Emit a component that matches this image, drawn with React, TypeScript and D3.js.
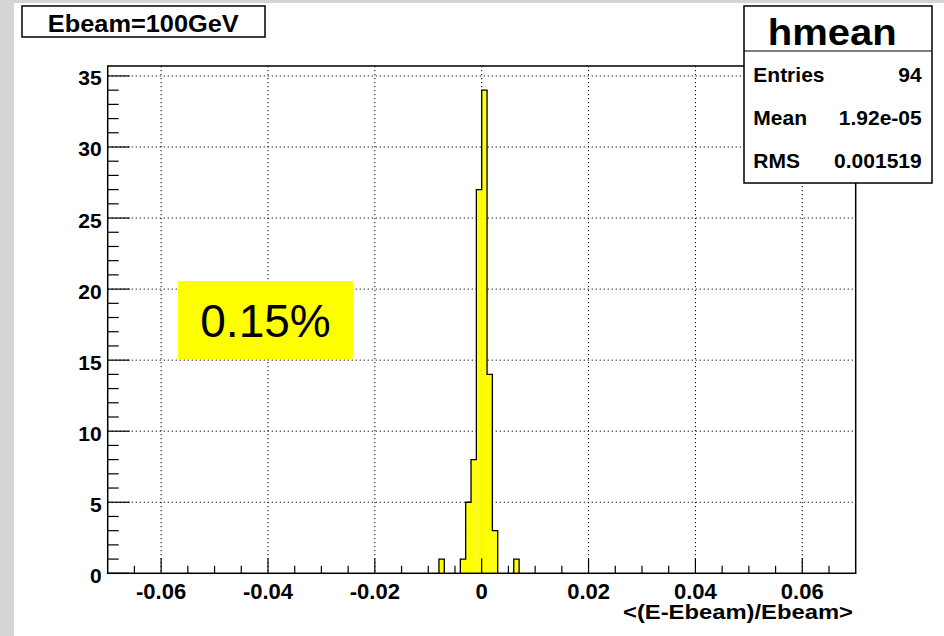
import React from "react";
import * as d3 from "d3";

const binStarts = [-0.008, -0.004, -0.003, -0.002, -0.001, 0, 0.001, 0.002, 0.006];
const binCounts = [1, 1, 5, 8, 27, 34, 14, 3, 1];
const binWidth = 0.001;
const xMajorTicks = [-0.06, -0.04, -0.02, 0, 0.02, 0.04, 0.06];
const xTickLabels = ["-0.06", "-0.04", "-0.02", "0", "0.02", "0.04", "0.06"];
const yMajorTicks = [0, 5, 10, 15, 20, 25, 30, 35];
const statLabels = ["Entries", "Mean", "RMS"];
const statValues = ["94", "1.92e-05", "0.001519"];
const titleText = "Ebeam=100GeV";
const statsTitle = "hmean";
const xAxisTitle = "<(E-Ebeam)/Ebeam>";
const annotation = "0.15%";

const W = 944;
const H = 636;
const FONT = "'Liberation Sans', Arial, Helvetica, sans-serif";

export default function App() {
  const left = 107.7, right = 855.7, top = 66, bottom = 573.3;
  const x = d3.scaleLinear().domain([-0.07, 0.07]).range([left, right]);
  const y = d3.scaleLinear().domain([0, 35.7]).range([bottom, top]);

  const xMinor = d3.range(-13, 14).map((i) => i * 0.005).filter((v) => Math.abs(v / 0.02 - Math.round(v / 0.02)) > 1e-6);
  const yMinor = d3.range(0, 36).filter((v) => v % 5 !== 0);

  // outline path of contiguous bins
  let outline = "";
  for (let i = 0; i < binStarts.length; i++) {
    const lo = binStarts[i];
    const hi = lo + binWidth;
    const prevContig = i > 0 && Math.abs(binStarts[i - 1] + binWidth - lo) < 1e-9;
    const nextContig = i < binStarts.length - 1 && Math.abs(binStarts[i + 1] - hi) < 1e-9;
    if (!prevContig) outline += `M${x(lo)},${y(0)}`;
    outline += `L${x(lo)},${y(binCounts[i])}L${x(hi)},${y(binCounts[i])}`;
    if (!nextContig) outline += `L${x(hi)},${y(0)}`;
  }

  const grid = "1.2,2.8";

  return (
    <svg width={W} height={H} style={{ display: "block", position: "absolute", left: 0, top: 0 }}>
      <rect x={0} y={0} width={W} height={H} fill="#d4d4d4" />
      <rect x={14} y={3} width={W - 14} height={H - 3} fill="#ffffff" />

      {/* grid */}
      {xMajorTicks.map((t) => (
        <line key={"gx" + t} x1={x(t)} x2={x(t)} y1={top} y2={bottom} stroke="#000" strokeWidth={1} strokeDasharray={grid} />
      ))}
      {yMajorTicks.map((t) => (
        <line key={"gy" + t} x1={left} x2={right} y1={y(t)} y2={y(t)} stroke="#000" strokeWidth={1} strokeDasharray={grid} />
      ))}

      {/* histogram */}
      {binStarts.map((lo, i) => (
        <rect key={"b" + i} x={x(lo)} y={y(binCounts[i])} width={x(lo + binWidth) - x(lo)} height={y(0) - y(binCounts[i])} fill="#ffff00" />
      ))}
      <path d={outline} fill="none" stroke="#000" strokeWidth={1.3} />

      {/* ticks */}
      {xMajorTicks.map((t) => (
        <line key={"tx" + t} x1={x(t)} x2={x(t)} y1={bottom} y2={bottom - 15} stroke="#000" strokeWidth={1.2} />
      ))}
      {xMinor.map((t) => (
        <line key={"mx" + t} x1={x(t)} x2={x(t)} y1={bottom} y2={bottom - 7.5} stroke="#000" strokeWidth={1.2} />
      ))}
      {yMajorTicks.map((t) => (
        <line key={"ty" + t} x1={left} x2={left + 22} y1={y(t)} y2={y(t)} stroke="#000" strokeWidth={1.2} />
      ))}
      {yMinor.map((t) => (
        <line key={"my" + t} x1={left} x2={left + 11} y1={y(t)} y2={y(t)} stroke="#000" strokeWidth={1.2} />
      ))}

      {/* frame */}
      <rect x={left} y={top} width={right - left} height={bottom - top} fill="none" stroke="#000" strokeWidth={1.5} />

      {/* tick labels */}
      {xMajorTicks.map((t, i) => (
        <text key={"lx" + t} x={x(t)} y={599} textAnchor="middle" fontFamily={FONT} fontWeight="bold" fontSize={22} fill="#000">
          {xTickLabels[i]}
        </text>
      ))}
      {yMajorTicks.map((t) => (
        <text key={"ly" + t} x={101.7} y={y(t) + 9.5} textAnchor="end" fontFamily={FONT} fontWeight="bold" fontSize={21} fill="#000">
          {t}
        </text>
      ))}

      {/* axis title */}
      <text x={853} y={619} textAnchor="end" fontFamily={FONT} fontWeight="bold" fontSize={21} textLength={230} lengthAdjust="spacingAndGlyphs" fill="#000">
        {xAxisTitle}
      </text>

      {/* annotation */}
      <rect x={178} y={281} width={175} height={78} fill="#ffff00" />
      <text x={265.5} y={336.7} textAnchor="middle" fontFamily={FONT} fontSize={46} fill="#000">
        {annotation}
      </text>

      {/* title box */}
      <rect x={22} y={6} width={243} height={31} fill="#fff" stroke="#000" strokeWidth={1.5} />
      <text x={143.3} y={31.7} textAnchor="middle" fontFamily={FONT} fontWeight="bold" fontSize={23} textLength={191} lengthAdjust="spacingAndGlyphs" fill="#000">
        {titleText}
      </text>

      {/* stats box */}
      <rect x={744} y={6} width={188} height={177} fill="#fff" stroke="#000" strokeWidth={1.5} />
      <line x1={744} x2={932} y1={51} y2={51} stroke="#000" strokeWidth={1.2} />
      <text x={832.2} y={45} textAnchor="middle" fontFamily={FONT} fontWeight="bold" fontSize={36} textLength={129} lengthAdjust="spacingAndGlyphs" fill="#000">
        {statsTitle}
      </text>
      {statLabels.map((s, i) => (
        <g key={"st" + i}>
          <text x={753.3} y={81.7 + i * 43.3} fontFamily={FONT} fontWeight="bold" fontSize={21} fill="#000">
            {s}
          </text>
          <text x={921.7} y={81.7 + i * 43.3} textAnchor="end" fontFamily={FONT} fontWeight="bold" fontSize={21} fill="#000">
            {statValues[i]}
          </text>
        </g>
      ))}
    </svg>
  );
}
